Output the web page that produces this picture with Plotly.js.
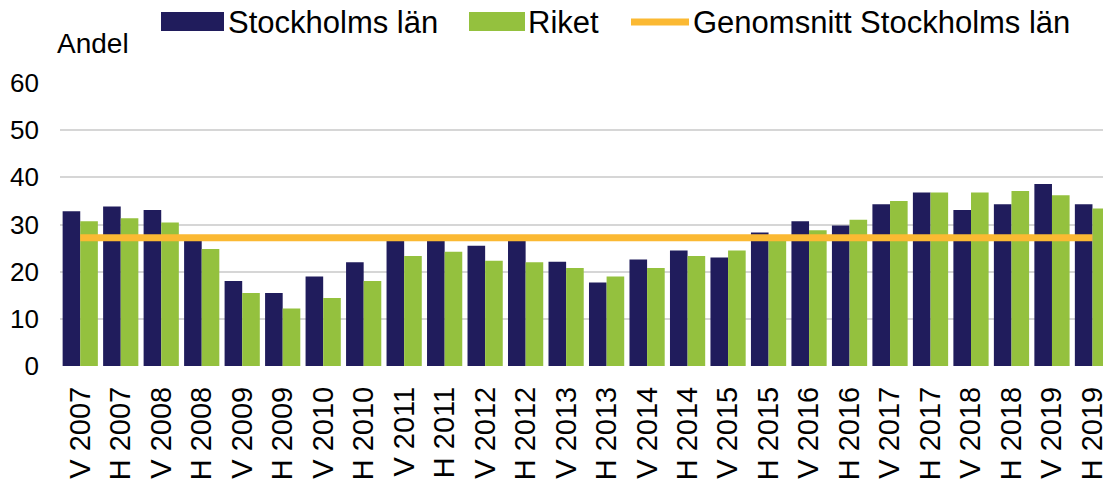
<!DOCTYPE html>
<html>
<head>
<meta charset="utf-8">
<script src="https://cdn.plot.ly/plotly-3.0.1.min.js"></script>
<style>html,body{margin:0;padding:0;background:#fff;}#chart{width:1103px;height:483px;}</style>
</head>
<body>
<div id="chart"></div>
<script>
const categories = ["V 2007","H 2007","V 2008","H 2008","V 2009","H 2009","V 2010","H 2010","V 2011","H 2011","V 2012","H 2012","V 2013","H 2013","V 2014","H 2014","V 2015","H 2015","V 2016","H 2016","V 2017","H 2017","V 2018","H 2018","V 2019","H 2019"];
const stockholm = [32.8,33.8,33.1,27.5,18.0,15.5,19.0,22.0,27.2,27.3,25.5,27.4,22.1,17.7,22.6,24.5,23.0,28.3,30.7,29.8,34.3,36.8,33.1,34.3,38.6,34.3];
const riket = [30.7,31.3,30.4,24.8,15.5,12.2,14.4,18.0,23.3,24.2,22.3,22.0,20.8,19.0,20.8,23.3,24.5,27.6,28.8,31.0,35.0,36.8,36.8,37.1,36.2,33.4];
const genomsnitt = [27.2,27.2,27.2,27.2,27.2,27.2,27.2,27.2,27.2,27.2,27.2,27.2,27.2,27.2,27.2,27.2,27.2,27.2,27.2,27.2,27.2,27.2,27.2,27.2,27.2,27.2];
const seriesNames = ["Stockholms län","Riket","Genomsnitt Stockholms län"];
const yTicks = [0,10,20,30,40,50,60];
const yAxisLabel = "Andel";

const NAVY = "#201c5c", GREEN = "#94c13e", ORANGE = "#fbb933";
const FONT = "Liberation Sans, Arial, sans-serif";

const W = 1103, H = 483, ML = 60, MR = 0, MT = 83, MB = 117;
const pw = W - ML - MR, ph = H - MT - MB;
const px = x => (x - ML) / pw;
const py = y => (H - MB - y) / ph;

const traces = [
  {type:"bar", name:seriesNames[0], x:categories, y:stockholm, marker:{color:NAVY}, showlegend:false, hoverinfo:"x+y"},
  {type:"bar", name:seriesNames[1], x:categories, y:riket, marker:{color:GREEN}, showlegend:false, hoverinfo:"x+y"},
  {type:"scatter", mode:"lines", name:seriesNames[2], x:categories, y:genomsnitt, line:{color:ORANGE, width:7}, showlegend:false, hoverinfo:"x+y"}
];

const legendY = 22;
const LF = 31;
const shapes = [
  {type:"rect", xref:"paper", yref:"paper", x0:px(161), x1:px(224), y0:py(31), y1:py(12), fillcolor:NAVY, line:{width:0}},
  {type:"rect", xref:"paper", yref:"paper", x0:px(469), x1:px(525), y0:py(31), y1:py(12), fillcolor:GREEN, line:{width:0}},
  {type:"line", xref:"paper", yref:"paper", x0:px(631), x1:px(689), y0:py(legendY), y1:py(legendY), line:{color:ORANGE, width:7}}
];
const annotations = [
  {xref:"paper", yref:"paper", x:px(226), y:py(legendY), text:seriesNames[0], showarrow:false, xanchor:"left", yanchor:"middle", font:{family:FONT, size:LF, color:"#000"}},
  {xref:"paper", yref:"paper", x:px(526), y:py(legendY), text:seriesNames[1], showarrow:false, xanchor:"left", yanchor:"middle", font:{family:FONT, size:LF, color:"#000"}},
  {xref:"paper", yref:"paper", x:px(691), y:py(legendY), text:seriesNames[2], showarrow:false, xanchor:"left", yanchor:"middle", font:{family:FONT, size:LF, color:"#000"}},
  {xref:"paper", yref:"paper", x:px(55), y:py(44), text:yAxisLabel, showarrow:false, xanchor:"left", yanchor:"middle", font:{family:FONT, size:28, color:"#000"}}
];

const layout = {
  width:W, height:H,
  margin:{l:ML, r:MR, t:MT, b:MB, pad:0},
  paper_bgcolor:"#fff", plot_bgcolor:"#fff",
  barmode:"group", bargap:0.13, bargroupgap:0,
  showlegend:false,
  font:{family:FONT, color:"#000"},
  xaxis:{
    type:"category", range:[-0.5, 25.26], tickangle:-90,
    tickfont:{family:FONT, size:29, color:"#000"},
    showgrid:false, zeroline:false, showline:false, ticks:"",
    ticklabelstandoff:14, automargin:false
  },
  yaxis:{
    range:[0,60], tickvals:yTicks, ticktext:yTicks.map(String),
    tickfont:{family:FONT, size:26, color:"#000"},
    showgrid:true, gridcolor:"#d6d6d6", gridwidth:2,
    zeroline:false, showline:false, ticks:"",
    ticklabelstandoff:20, automargin:false
  },
  shapes:shapes,
  annotations:annotations
};

Plotly.newPlot("chart", traces, layout, {displayModeBar:false, staticPlot:true});
</script>
</body>
</html>
